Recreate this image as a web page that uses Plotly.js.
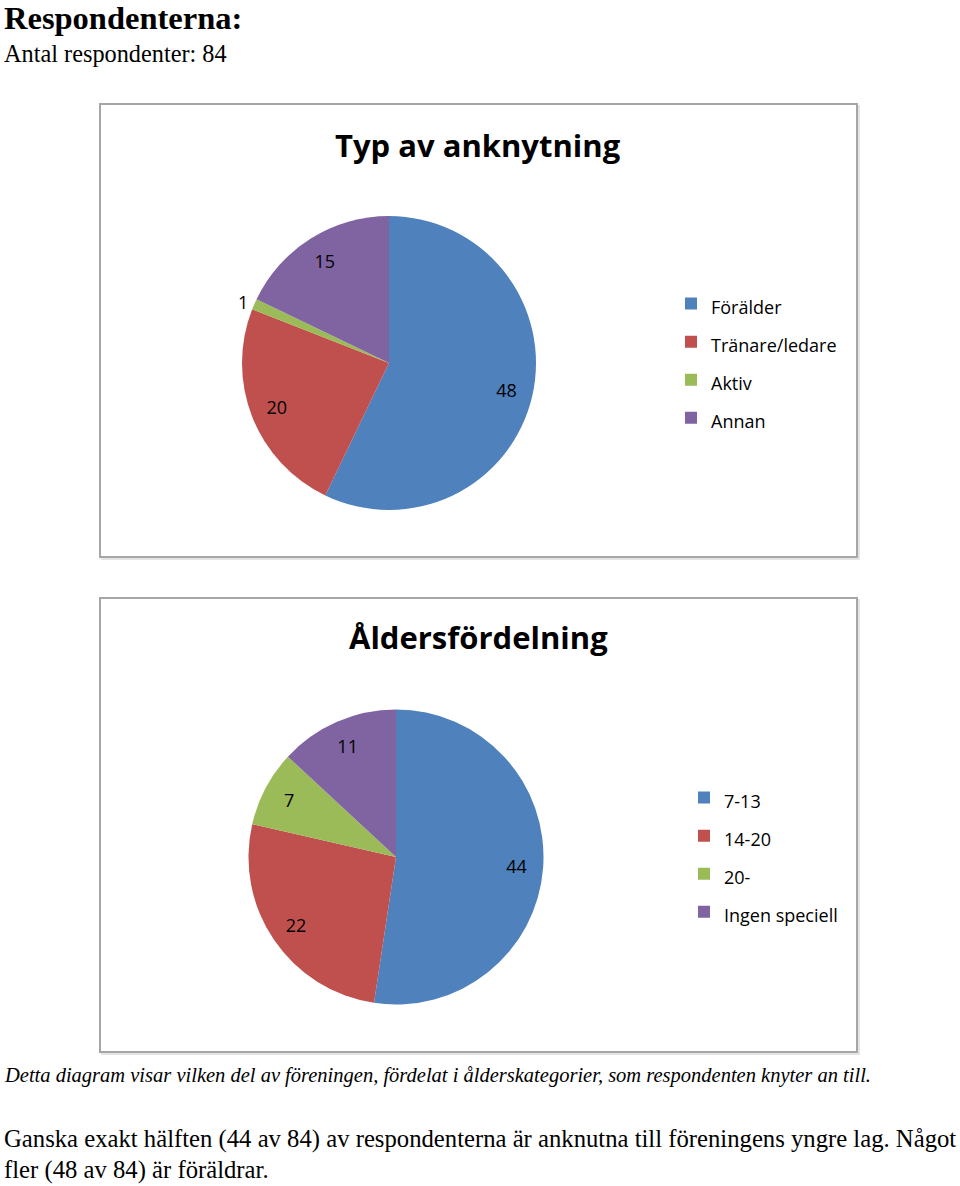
<!DOCTYPE html>
<html>
<head>
<meta charset="utf-8">
<script src="https://cdn.plot.ly/plotly-3.0.1.min.js"></script>
<style>
  html, body { margin: 0; padding: 0; background: #ffffff; }
  #chart { width: 960px; height: 1186px; }
</style>
</head>
<body>
<div id="chart"></div>
<script>
// ---- Data ----
const heading = "Respondenterna:";
const subheading = "Antal respondenter: 84";

const chart1Title = "Typ av anknytning";
const chart1Labels = ["Förälder", "Tränare/ledare", "Aktiv", "Annan"];
const chart1Values = [48, 20, 1, 15];

const chart2Title = "Åldersfördelning";
const chart2Labels = ["7-13", "14-20", "20-", "Ingen speciell"];
const chart2Values = [44, 22, 7, 11];

const caption = "Detta diagram visar vilken del av föreningen, fördelat i ålderskategorier, som respondenten knyter an till.";
const paragraphLine1 = "Ganska exakt hälften (44 av 84) av respondenterna är anknutna till föreningens yngre lag. Något";
const paragraphLine2 = "fler (48 av 84) är föräldrar.";

const sliceColors = ["#4f81bd", "#c0504d", "#9bbb59", "#8064a2"];

// ---- Layout helpers (page is 960 x 1186, zero margins) ----
const W = 960, H = 1186;
const px = x => x / W;
const py = y => 1 - y / H;

const sans = "'Open Sans', Lato, sans-serif";
const serif = "'Liberation Serif', 'DejaVu Serif', serif";
const legendLabel = s => '<span style="font-size:18px">' + s + '</span>';
const pieFont = { family: sans, size: 18, color: "#000000" };
const transparent = ["rgba(0,0,0,0)", "rgba(0,0,0,0)", "rgba(0,0,0,0)", "rgba(0,0,0,0)"];

function piePair(labels, values, domain, legendId, positions) {
  // solid pie (slices + legend)
  const base = {
    type: "pie",
    labels: labels.map(legendLabel),
    values: values,
    textinfo: "none",
    sort: false,
    direction: "clockwise",
    rotation: 0,
    marker: { colors: sliceColors, line: { width: 0 } },
    domain: domain,
    hoverinfo: "none",
    legend: legendId
  };
  // transparent ring on top, only to carry the value labels further out
  const labelsRing = {
    type: "pie",
    labels: labels.map(legendLabel),
    values: values,
    text: values.map(String),
    textinfo: "text",
    textposition: positions,
    insidetextorientation: "horizontal",
    textfont: pieFont,
    insidetextfont: pieFont,
    outsidetextfont: pieFont,
    hole: 0.64,
    sort: false,
    direction: "clockwise",
    rotation: 0,
    marker: { colors: transparent, line: { width: 0 } },
    domain: domain,
    hoverinfo: "none",
    showlegend: false,
    legend: legendId
  };
  return [base, labelsRing];
}

const traces = []
  .concat(piePair(chart1Labels, chart1Values,
    { x: [px(242), px(536)], y: [py(510), py(216)] }, "legend",
    ["inside", "inside", "outside", "inside"]))
  .concat(piePair(chart2Labels, chart2Values,
    { x: [px(248.5), px(543.5)], y: [py(1004.5), py(709.5)] }, "legend2",
    "inside"));

const legendBase = {
  font: { family: sans, size: 27, color: "#000000" },
  bgcolor: "rgba(0,0,0,0)",
  borderwidth: 0,
  xanchor: "left",
  yanchor: "middle",
  traceorder: "normal"
};

const boxLine = { color: "#a6a6a6", width: 2 };
const shadowLine = { color: "#e4e4e4", width: 2 };
const titleFont = { family: sans, size: 31, color: "#000000", weight: 700 };

const layout = {
  width: W,
  height: H,
  margin: { l: 0, r: 0, t: 0, b: 0 },
  paper_bgcolor: "#ffffff",
  plot_bgcolor: "#ffffff",
  showlegend: true,
  legend: Object.assign({}, legendBase, { x: px(671), y: py(361) }),
  legend2: Object.assign({}, legendBase, { x: px(684), y: py(855) }),
  shapes: [
    { type: "rect", xref: "paper", yref: "paper", x0: px(102), x1: px(859), y0: py(559), y1: py(106), line: shadowLine, layer: "below" },
    { type: "rect", xref: "paper", yref: "paper", x0: px(102), x1: px(859), y0: py(1054), y1: py(600), line: shadowLine, layer: "below" },
    { type: "rect", xref: "paper", yref: "paper", x0: px(100), x1: px(857), y0: py(557), y1: py(104), line: boxLine, fillcolor: "#ffffff", layer: "below" },
    { type: "rect", xref: "paper", yref: "paper", x0: px(100), x1: px(857), y0: py(1052), y1: py(598), line: boxLine, fillcolor: "#ffffff", layer: "below" }
  ],
  annotations: [
    { text: heading, xref: "paper", yref: "paper", x: px(2), y: py(18), xanchor: "left", yanchor: "middle", showarrow: false,
      font: { family: serif, size: 32.5, color: "#000000", weight: 700 } },
    { text: subheading, xref: "paper", yref: "paper", x: px(2), y: py(54), xanchor: "left", yanchor: "middle", showarrow: false,
      font: { family: serif, size: 24.3, color: "#000000" } },
    { text: chart1Title, xref: "paper", yref: "paper", x: px(478), y: py(145), xanchor: "center", yanchor: "middle", showarrow: false,
      font: titleFont },
    { text: chart2Title, xref: "paper", yref: "paper", x: px(478), y: py(637), xanchor: "center", yanchor: "middle", showarrow: false,
      font: titleFont },
    { text: caption, xref: "paper", yref: "paper", x: px(2), y: py(1075), xanchor: "left", yanchor: "middle", showarrow: false,
      font: { family: serif, size: 20.5, color: "#000000", style: "italic" } },
    { text: paragraphLine1, xref: "paper", yref: "paper", x: px(2), y: py(1139), xanchor: "left", yanchor: "middle", showarrow: false,
      font: { family: serif, size: 24.7, color: "#000000" } },
    { text: paragraphLine2, xref: "paper", yref: "paper", x: px(2), y: py(1170), xanchor: "left", yanchor: "middle", showarrow: false,
      font: { family: serif, size: 24.7, color: "#000000" } }
  ]
};

Plotly.newPlot("chart", traces, layout, { displayModeBar: false, staticPlot: true });
</script>
</body>
</html>
